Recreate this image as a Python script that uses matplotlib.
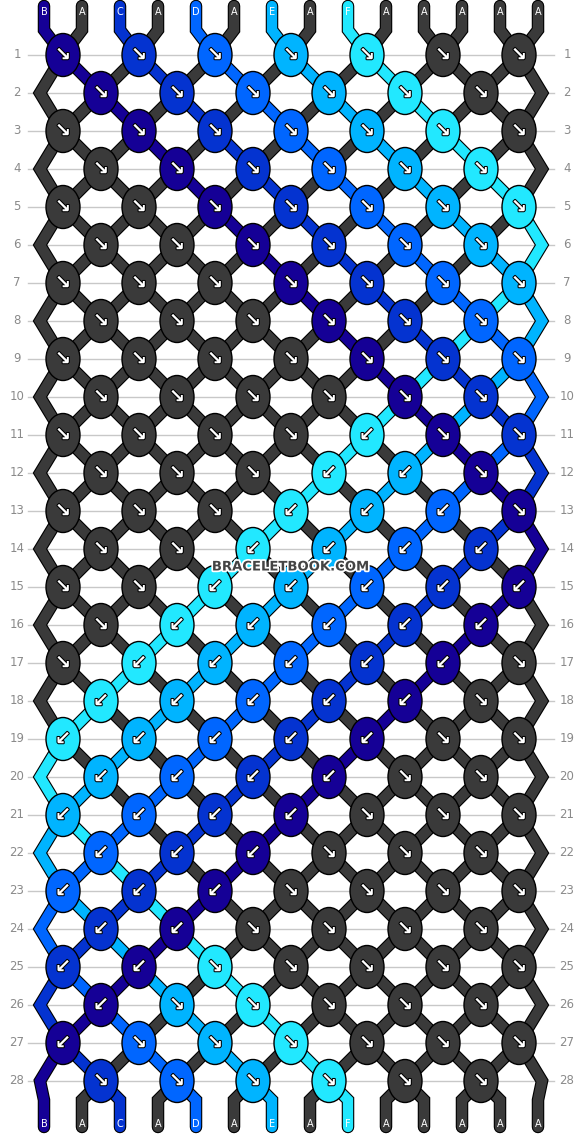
import matplotlib
matplotlib.use("Agg")
import matplotlib.pyplot as plt
from matplotlib.patches import Ellipse
import matplotlib.patheffects as pe

# ---- data ----
start_strings = ["B", "A", "C", "A", "D", "A", "E", "A", "F", "A", "A", "A", "A", "A"]
colors = {"B": "#150096", "C": "#0433d0", "D": "#0066ff", "E": "#00b4ff", "F": "#22e8ff", "A": "#3a3a3a"}
priority = ["B", "C", "D", "E", "F", "A"]   # which string's colour shows in a knot
n_rows = 28

W, H = 582, 1136
fig = plt.figure(figsize=(W / 100, H / 100), dpi=100)
ax = fig.add_axes([0, 0, 1, 1])
ax.set_xlim(0, W)
ax.set_ylim(H, 0)
ax.axis("off")

n = len(start_strings)
sx = [44 + 38 * i for i in range(n)]
def ry(r):
    return 55 + 38 * (r - 1)

order = list(range(n))
paths = {i: [(sx[i], 6), (sx[i], 30)] for i in range(n)}
knots = []
for r in range(1, n_rows + 1):
    y = ry(r)
    first = 0 if r % 2 == 1 else 1
    new = order[:]
    used = set()
    for p in range(first, n - 1, 2):
        a, b = order[p], order[p + 1]
        ca, cb = start_strings[a], start_strings[b]
        x = (sx[p] + sx[p + 1]) / 2
        if priority.index(ca) <= priority.index(cb):
            knots.append((x, y, ca, "↘"))
        else:
            knots.append((x, y, cb, "↙"))
        new[p], new[p + 1] = b, a
        paths[a].append((x, y)); paths[b].append((x, y))
        used.update([p, p + 1])
    for p in range(n):
        if p not in used:
            paths[order[p]].append((40 if p == 0 else 542, y))
    order = new
for p, i in enumerate(order):
    paths[i] += [(sx[p], 1100), (sx[p], 1127)]

for r in range(1, n_rows + 1):
    ax.plot([28, 554], [ry(r), ry(r)], color="#c8c8c8", lw=1.0, zorder=0)
    ax.text(17, ry(r), str(r), ha="center", va="center", fontsize=8.5, color="#8a8a8a")
    ax.text(567, ry(r), str(r), ha="center", va="center", fontsize=8.5, color="#8a8a8a")

for i in range(n):
    xs = [p[0] for p in paths[i]]
    ys = [p[1] for p in paths[i]]
    ax.plot(xs, ys, color="black", lw=9.0, solid_capstyle="round", solid_joinstyle="miter", zorder=1)
    ax.plot(xs, ys, color=colors[start_strings[i]], lw=7.4, solid_capstyle="round", solid_joinstyle="miter", zorder=1.1)

for p in range(n):
    ax.text(sx[p], 12, start_strings[p], ha="center", va="center", fontsize=7, color="white", zorder=3)
for p, i in enumerate(order):
    ax.text(sx[p], 1124, start_strings[i], ha="center", va="center", fontsize=7, color="white", zorder=3)

for x, y, c, arr in knots:
    ax.add_patch(Ellipse((x, y), 34, 43, facecolor=colors[c], edgecolor="black", lw=1.0, zorder=2))
    ax.text(x, y, arr, ha="center", va="center", fontsize=14, color="white", fontweight="bold",
            family="DejaVu Sans", zorder=3,
            path_effects=[pe.withStroke(linewidth=1.5, foreground="black")])

ax.text(291, 567, "BRACELETBOOK.COM", ha="center", va="center", fontsize=9.5, fontweight="bold",
        color="#444444", zorder=4, path_effects=[pe.withStroke(linewidth=2.5, foreground="white")])

fig.savefig("out.png", dpi=100)
